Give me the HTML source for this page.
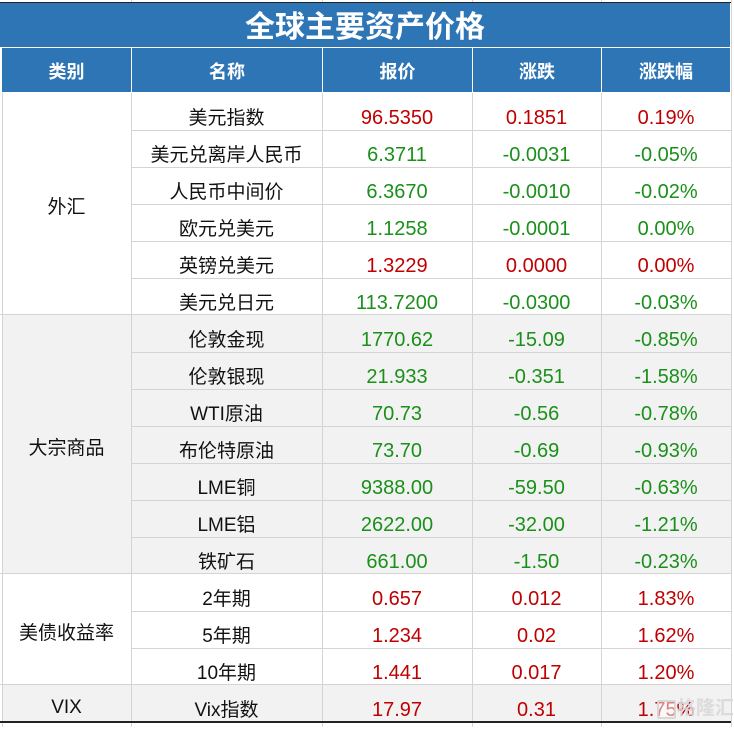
<!DOCTYPE html>
<html><head><meta charset="utf-8">
<style>
html,body{margin:0;padding:0;background:#fff;}
body{width:734px;height:727px;position:relative;overflow:hidden;font-family:"Liberation Sans","Noto Sans CJK SC",sans-serif;}
.a{position:absolute;}
.vl{position:absolute;width:1px;background:#d4d4d4;}
.hl{position:absolute;height:1px;background:#d4d4d4;}
.c{position:absolute;height:37px;line-height:37px;text-align:center;font-size:19px;white-space:nowrap;transform:translateY(2px);}
.r{color:#c00000;font-size:20px;}
.g{color:#1a901a;font-size:20px;}
.k{color:#111;}
.hd{position:absolute;top:48px;height:44px;line-height:48px;text-align:center;color:#fff;font-weight:bold;font-size:18px;background:#2e75b6;}
</style></head><body>
<!-- top grid remnants -->
<div class="vl" style="left:131px;top:0;height:3px"></div>
<div class="vl" style="left:322px;top:0;height:3px"></div>
<div class="vl" style="left:472px;top:0;height:3px"></div>
<div class="vl" style="left:601px;top:0;height:3px"></div>
<div class="vl" style="left:731px;top:0;height:727px"></div>
<div class="a" style="left:0;top:2px;width:731px;height:1px;background:#222"></div>
<!-- title -->
<div class="a" style="left:0;top:3px;width:730px;height:44px;background:#2e75b6;color:#fff;font-weight:bold;font-size:30px;line-height:50px;text-align:center;">全球主要资产价格</div>
<!-- header -->
<div class="hd" style="left:2px;width:129px">类别</div>
<div class="hd" style="left:132px;width:190px">名称</div>
<div class="hd" style="left:323px;width:149px">报价</div>
<div class="hd" style="left:473px;width:128px">涨跌</div>
<div class="hd" style="left:602px;width:128px">涨跌幅</div>
<!-- gray backgrounds -->
<div class="a" style="left:2px;top:315px;width:729px;height:259px;background:#f2f2f2"></div>
<div class="a" style="left:2px;top:685px;width:729px;height:37px;background:#f2f2f2"></div>
<!-- vertical grid lines in body -->
<div class="vl" style="left:2px;top:93px;height:634px"></div>
<div class="vl" style="left:131px;top:93px;height:634px"></div>
<div class="vl" style="left:322px;top:93px;height:634px"></div>
<div class="vl" style="left:472px;top:93px;height:634px"></div>
<div class="vl" style="left:601px;top:93px;height:634px"></div>
<!-- horizontal lines -->
<div class="hl" style="left:131px;top:130px;width:600px"></div>
<div class="hl" style="left:131px;top:167px;width:600px"></div>
<div class="hl" style="left:131px;top:204px;width:600px"></div>
<div class="hl" style="left:131px;top:241px;width:600px"></div>
<div class="hl" style="left:131px;top:278px;width:600px"></div>
<div class="hl" style="left:0px;top:314px;width:731px"></div>
<div class="hl" style="left:131px;top:352px;width:600px"></div>
<div class="hl" style="left:131px;top:389px;width:600px"></div>
<div class="hl" style="left:131px;top:426px;width:600px"></div>
<div class="hl" style="left:131px;top:463px;width:600px"></div>
<div class="hl" style="left:131px;top:500px;width:600px"></div>
<div class="hl" style="left:131px;top:537px;width:600px"></div>
<div class="hl" style="left:0px;top:573px;width:731px"></div>
<div class="hl" style="left:131px;top:611px;width:600px"></div>
<div class="hl" style="left:131px;top:648px;width:600px"></div>
<div class="hl" style="left:0px;top:684px;width:731px"></div>
<div class="a" style="left:0;top:721px;width:731px;height:2px;background:#222"></div>

<!-- categories -->
<div class="c k" style="left:2px;width:129px;top:187px">外汇</div>
<div class="c k" style="left:2px;width:129px;top:428px">大宗商品</div>
<div class="c k" style="left:2px;width:129px;top:613px">美债收益率</div>
<div class="c k" style="left:2px;width:129px;top:687px">VIX</div>

<!-- rows -->
<div class="c k" style="left:131px;width:191px;top:98px">美元指数</div>
<div class="c r" style="left:322px;width:150px;top:98px">96.5350</div>
<div class="c r" style="left:472px;width:129px;top:98px">0.1851</div>
<div class="c r" style="left:601px;width:130px;top:98px">0.19%</div>

<div class="c k" style="left:131px;width:191px;top:135px">美元兑离岸人民币</div>
<div class="c g" style="left:322px;width:150px;top:135px">6.3711</div>
<div class="c g" style="left:472px;width:129px;top:135px">-0.0031</div>
<div class="c g" style="left:601px;width:130px;top:135px">-0.05%</div>

<div class="c k" style="left:131px;width:191px;top:172px">人民币中间价</div>
<div class="c g" style="left:322px;width:150px;top:172px">6.3670</div>
<div class="c g" style="left:472px;width:129px;top:172px">-0.0010</div>
<div class="c g" style="left:601px;width:130px;top:172px">-0.02%</div>

<div class="c k" style="left:131px;width:191px;top:209px">欧元兑美元</div>
<div class="c g" style="left:322px;width:150px;top:209px">1.1258</div>
<div class="c g" style="left:472px;width:129px;top:209px">-0.0001</div>
<div class="c g" style="left:601px;width:130px;top:209px">0.00%</div>

<div class="c k" style="left:131px;width:191px;top:246px">英镑兑美元</div>
<div class="c r" style="left:322px;width:150px;top:246px">1.3229</div>
<div class="c r" style="left:472px;width:129px;top:246px">0.0000</div>
<div class="c r" style="left:601px;width:130px;top:246px">0.00%</div>

<div class="c k" style="left:131px;width:191px;top:283px">美元兑日元</div>
<div class="c g" style="left:322px;width:150px;top:283px">113.7200</div>
<div class="c g" style="left:472px;width:129px;top:283px">-0.0300</div>
<div class="c g" style="left:601px;width:130px;top:283px">-0.03%</div>

<div class="c k" style="left:131px;width:191px;top:320px">伦敦金现</div>
<div class="c g" style="left:322px;width:150px;top:320px">1770.62</div>
<div class="c g" style="left:472px;width:129px;top:320px">-15.09</div>
<div class="c g" style="left:601px;width:130px;top:320px">-0.85%</div>

<div class="c k" style="left:131px;width:191px;top:357px">伦敦银现</div>
<div class="c g" style="left:322px;width:150px;top:357px">21.933</div>
<div class="c g" style="left:472px;width:129px;top:357px">-0.351</div>
<div class="c g" style="left:601px;width:130px;top:357px">-1.58%</div>

<div class="c k" style="left:131px;width:191px;top:394px">WTI原油</div>
<div class="c g" style="left:322px;width:150px;top:394px">70.73</div>
<div class="c g" style="left:472px;width:129px;top:394px">-0.56</div>
<div class="c g" style="left:601px;width:130px;top:394px">-0.78%</div>

<div class="c k" style="left:131px;width:191px;top:431px">布伦特原油</div>
<div class="c g" style="left:322px;width:150px;top:431px">73.70</div>
<div class="c g" style="left:472px;width:129px;top:431px">-0.69</div>
<div class="c g" style="left:601px;width:130px;top:431px">-0.93%</div>

<div class="c k" style="left:131px;width:191px;top:468px">LME铜</div>
<div class="c g" style="left:322px;width:150px;top:468px">9388.00</div>
<div class="c g" style="left:472px;width:129px;top:468px">-59.50</div>
<div class="c g" style="left:601px;width:130px;top:468px">-0.63%</div>

<div class="c k" style="left:131px;width:191px;top:505px">LME铝</div>
<div class="c g" style="left:322px;width:150px;top:505px">2622.00</div>
<div class="c g" style="left:472px;width:129px;top:505px">-32.00</div>
<div class="c g" style="left:601px;width:130px;top:505px">-1.21%</div>

<div class="c k" style="left:131px;width:191px;top:542px">铁矿石</div>
<div class="c g" style="left:322px;width:150px;top:542px">661.00</div>
<div class="c g" style="left:472px;width:129px;top:542px">-1.50</div>
<div class="c g" style="left:601px;width:130px;top:542px">-0.23%</div>

<div class="c k" style="left:131px;width:191px;top:579px">2年期</div>
<div class="c r" style="left:322px;width:150px;top:579px">0.657</div>
<div class="c r" style="left:472px;width:129px;top:579px">0.012</div>
<div class="c r" style="left:601px;width:130px;top:579px">1.83%</div>

<div class="c k" style="left:131px;width:191px;top:616px">5年期</div>
<div class="c r" style="left:322px;width:150px;top:616px">1.234</div>
<div class="c r" style="left:472px;width:129px;top:616px">0.02</div>
<div class="c r" style="left:601px;width:130px;top:616px">1.62%</div>

<div class="c k" style="left:131px;width:191px;top:653px">10年期</div>
<div class="c r" style="left:322px;width:150px;top:653px">1.441</div>
<div class="c r" style="left:472px;width:129px;top:653px">0.017</div>
<div class="c r" style="left:601px;width:130px;top:653px">1.20%</div>

<div class="c k" style="left:131px;width:191px;top:690px">Vix指数</div>
<div class="c r" style="left:322px;width:150px;top:690px">17.97</div>
<div class="c r" style="left:472px;width:129px;top:690px">0.31</div>
<div class="c r" style="left:601px;width:130px;top:690px">1.75%</div>

<!-- watermark -->
<div class="a" style="left:657px;top:700px;width:15px;height:15px;border:2px solid rgba(210,210,210,0.85);border-radius:2px;background:rgba(255,255,255,0.5)"></div>
<div class="a" style="left:677px;top:696px;font-size:19px;line-height:26px;color:rgba(215,215,215,0.85);font-weight:bold;">格隆汇</div>
</body></html>
